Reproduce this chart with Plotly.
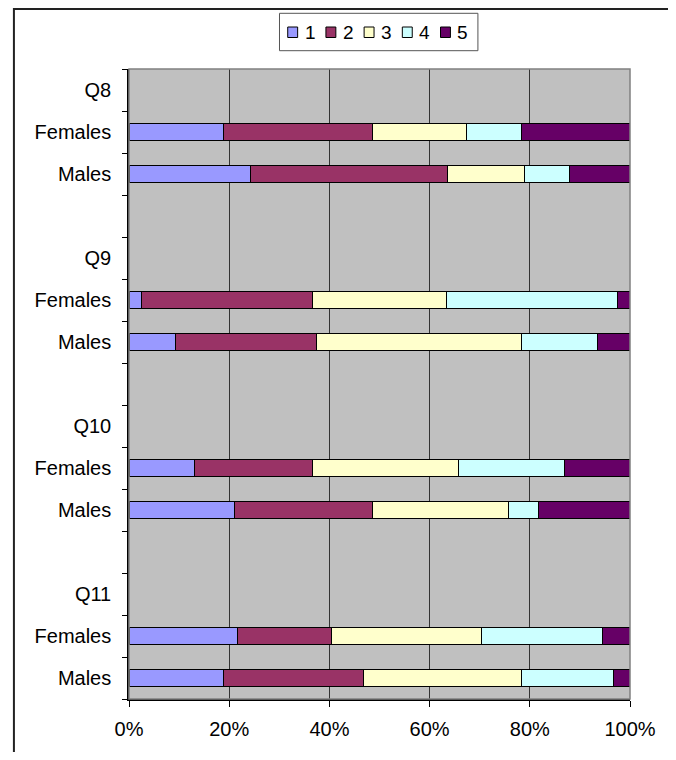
import plotly.graph_objects as go

# ---- data ----
categories = ["Q8", "Females", "Males", "",
              "Q9", "Females", "Males", "",
              "Q10", "Females", "Males", "",
              "Q11", "Females", "Males"]
series_names = ["1", "2", "3", "4", "5"]
# values for bar rows in order: Q8 F, Q8 M, Q9 F, Q9 M, Q10 F, Q10 M, Q11 F, Q11 M
s1 = [18.8, 24.2, 2.5, 9.2, 13.1, 21.1, 21.7, 18.8]
s2 = [29.8, 39.3, 34.2, 28.2, 23.6, 27.5, 18.7, 28.1]
s3 = [18.8, 15.4, 26.6, 40.9, 29.1, 27.2, 29.9, 31.4]
s4 = [10.9, 9.0, 34.2, 15.2, 21.1, 6.0, 24.2, 18.4]
s5 = [21.7, 12.1, 2.5, 6.5, 13.1, 18.2, 5.5, 3.3]
x_ticks = [0, 20, 40, 60, 80, 100]
x_tick_labels = ["0%", "20%", "40%", "60%", "80%", "100%"]

colors = ["#9999FF", "#993366", "#FFFFCC", "#CCFFFF", "#660066"]
FONT = "Liberation Sans, Arial, sans-serif"

bar_rows = [i for i, c in enumerate(categories) if c in ("Females", "Males")]

fig = go.Figure()
for name, vals, col in zip(series_names, [s1, s2, s3, s4, s5], colors):
    fig.add_trace(go.Bar(
        y=bar_rows, x=vals, name=name, orientation="h",
        width=0.4, marker=dict(color=col, line=dict(color="black", width=1)),
        showlegend=False, hoverinfo="x+name"))

# page body has an 8px default margin
OFF = 8
W, H = 676 - 2 * OFF, 760 - 2 * OFF
L, T = 129 - OFF, 69 - OFF
pw, ph = 505, 630
R, B = W - L - pw, H - T - ph

def px(x):
    return (x - OFF - L) / pw

def py(y):
    return (H - B - (y - OFF)) / ph

shapes = []
annotations = []
# outer chart border
shapes.append(dict(type="rect", xref="paper", yref="paper",
                   x0=px(13), x1=px(700), y0=py(790), y1=py(9),
                   line=dict(color="#222222", width=2), layer="below"))
# plot-area outline (grey top/right)
shapes.append(dict(type="rect", xref="paper", yref="paper",
                   x0=0, x1=1, y0=0, y1=1,
                   line=dict(color="#808080", width=1.5)))
# legend box
shapes.append(dict(type="rect", xref="paper", yref="paper",
                   x0=px(280.7), x1=px(480.7), y0=py(50.7), y1=py(13.3),
                   line=dict(color="#555555", width=1), fillcolor="white"))
for i, (name, col) in enumerate(zip(series_names, colors)):
    sx = 289 + 38.5 * i
    shapes.append(dict(type="rect", xref="paper", yref="paper",
                       x0=px(sx), x1=px(sx + 10), y0=py(37.5), y1=py(27),
                       line=dict(color="black", width=1), fillcolor=col))
    annotations.append(dict(xref="paper", yref="paper", x=px(sx + 15), y=py(32.5),
                            xanchor="left", yanchor="middle", showarrow=False,
                            text=name, font=dict(family=FONT, size=19, color="black")))

fig.update_layout(
    width=W, height=H,
    margin=dict(l=L, r=R, t=T, b=B, pad=0),
    paper_bgcolor="white", plot_bgcolor="#C0C0C0",
    barmode="stack", barnorm="percent", bargap=0.6,
    font=dict(family=FONT, size=20, color="black"),
    shapes=shapes, annotations=annotations,
    xaxis=dict(range=[0, 100], tickmode="array", tickvals=x_ticks,
               ticktext=x_tick_labels,
               showgrid=True, gridcolor="#333333", gridwidth=1,
               zeroline=False, showline=True, linecolor="black", linewidth=1.5,
               ticks="outside", ticklen=6, tickcolor="black", tickwidth=1,
               ticklabelstandoff=5, fixedrange=True),
    yaxis=dict(range=[14.5, -0.5], tickmode="array",
               tickvals=list(range(len(categories))), ticktext=categories,
               showgrid=False, zeroline=False, showline=True,
               linecolor="black", linewidth=1.5,
               ticks="outside", ticklen=12, tickcolor="rgba(0,0,0,0)",
               minor=dict(tickmode="linear", tick0=-0.5, dtick=1,
                          ticks="outside", ticklen=5, tickcolor="black",
                          tickwidth=1, showgrid=False),
               fixedrange=True),
)

fig.write_html("out.html")
